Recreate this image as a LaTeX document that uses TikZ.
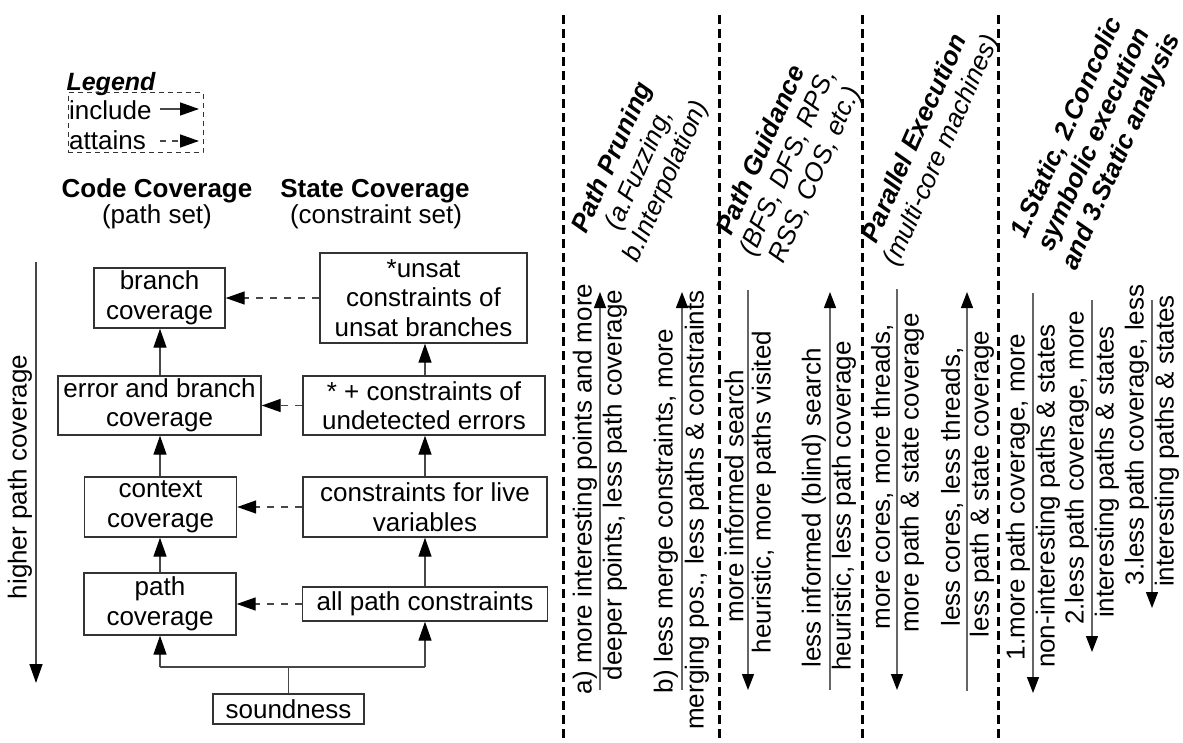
\documentclass[tikz,border=0pt]{standalone}
\usepackage{fontspec}
\setmainfont{Liberation Sans}
\usetikzlibrary{arrows.meta}
\begin{document}
\begin{tikzpicture}[x=1pt,y=-1pt,
  every node/.style={font=\fontsize{26}{29.5}\selectfont, text=black},
  box/.style={draw=black!80, line width=1.4pt, align=center, inner sep=0pt},
  conn/.style={draw=black!72, line width=1.4pt},
  arr/.style={conn, -{Triangle[length=19pt,width=13pt,color=black]}},
  darr/.style={arr, dash pattern=on 7pt off 7pt},
  sep/.style={line width=3pt, dash pattern=on 9pt off 5pt},
  vlbl/.style={inner sep=0pt, rotate=90},
  trend/.style={draw=black!60, line width=1.2pt, -{Triangle[length=16pt,width=12pt,color=black]}},
  head/.style={inner sep=0pt, rotate=66, align=center},
  legendbox/.style={draw=black!80, line width=1pt, dash pattern=on 5pt off 4pt, inner sep=0pt}
]
\useasboundingbox (0,0) rectangle (1183,743);

% ---------- legend ----------
\node[inner sep=0pt, font=\fontsize{25}{28}\selectfont\bfseries\itshape] (lg) at (111,84) {Legend};
\node[legendbox, minimum width=135pt, minimum height=60pt] (lgb) at (135.5,123) {};
\node[anchor=west, inner sep=0pt] (inc) at (69,110) {include};
\node[anchor=west, inner sep=0pt] (att) at (69,140) {attains};
\coordinate (incA) at (160,109);
\coordinate (incB) at (199,109);
\coordinate (attA) at (160,141);
\coordinate (attB) at (199,141);
\draw[arr] (incA) -- (incB);
\draw[arr, dash pattern=on 6pt off 6pt] (attA) -- (attB);

% ---------- column headings ----------
\node[inner sep=0pt, font=\fontsize{26}{29.5}\selectfont\bfseries] (cch) at (157,191) {Code Coverage};
\node[inner sep=0pt] (ccs) at (157,217) {(path set)};
\node[inner sep=0pt, font=\fontsize{26}{29.5}\selectfont\bfseries] (sch) at (375,191) {State Coverage};
\node[inner sep=0pt] (scs) at (376,217) {(constraint set)};

% ---------- coverage hierarchy ----------
\node[box, minimum width=131pt, minimum height=60pt] (br) at (159.5,298) {branch\\coverage};
\node[box, minimum width=203pt, minimum height=59pt] (eb) at (159.5,405.5) {error and branch\\coverage};
\node[box, minimum width=152pt, minimum height=60pt] (cx) at (160.5,507) {context\\coverage};
\node[box, minimum width=152pt, minimum height=62pt] (pc) at (160,604) {path\\coverage};

\node[box, minimum width=207pt, minimum height=90pt] (us) at (423.5,298) {*unsat\\constraints of\\unsat branches};
\node[box, minimum width=242pt, minimum height=59pt] (ue) at (424,405.5) {* + constraints of\\undetected errors};
\node[box, minimum width=244pt, minimum height=60pt] (lv) at (425,507) {constraints for live\\variables};
\node[box, minimum width=245pt, minimum height=34pt] (ap) at (425,604) {all path constraints};

\node[box, minimum width=151pt, minimum height=30pt] (sd) at (288.5,709) {soundness};

% include edges
\coordinate (jn) at (288.5,667);
\draw[conn] (sd.north) -- (jn);
\draw[conn] (pc.south |- jn) -- (ap.south |- jn);
\draw[arr] (pc.south |- jn) -- (pc.south);
\draw[arr] (ap.south |- jn) -- (ap.south);
\draw[arr] (pc.north) -- (pc.north |- cx.south);
\draw[arr] (pc.north |- cx.north) -- (pc.north |- eb.south);
\draw[arr] (pc.north |- eb.north) -- (pc.north |- br.south);
\draw[arr] (ap.north) -- (ap.north |- lv.south);
\draw[arr] (ap.north |- lv.north) -- (ap.north |- ue.south);
\draw[arr] (ap.north |- ue.north) -- (ap.north |- us.south);

% attains edges
\draw[darr] (us.west) -- (us.west -| br.east);
\draw[darr] (ue.west) -- (ue.west -| eb.east);
\draw[darr] (lv.west) -- (lv.west -| cx.east);
\draw[darr] (ap.west) -- (ap.west -| pc.east);

% vertical scale
\coordinate (hpA) at (36,262);
\coordinate (hpB) at (36,683);
\draw[arr] (hpA) -- (hpB);
\node[vlbl] (hp) at (20,477) {higher path coverage};

% ---------- separators ----------
\foreach \sx in {563,719,862,998}
  \draw[sep] (\sx,15) -- (\sx,743);

% ---------- technique headings ----------
\node[head] (h1) at (640,170) {\textbf{\textit{Path Pruning}}\\\textit{(a.Fuzzing,}\\\textit{b.Interpolation)}};
\node[head] (h2) at (789,163) {\textbf{\textit{Path Guidance}}\\\textit{(BFS, DFS, RPS,}\\\textit{RSS, COS, etc.)}};
\node[head] (h3) at (929,145) {\textbf{\textit{Parallel Execution}}\\\textit{(multi-core machines)}};
\node[head, font=\fontsize{26}{29.5}\selectfont\bfseries\itshape] (h4) at (1095,140) {1.Static, 2.Concolic\\symbolic execution\\and 3.Static analysis};

% ---------- path pruning ----------
\node[vlbl] (pa1) at (585,489) {a) more interesting points and more};
\node[vlbl] (pa2) at (615,485) {deeper points, less path coverage};
\coordinate (ta1) at (600,690); \coordinate (ta2) at (600,292);
\draw[trend] (ta1) -- (ta2);
\node[vlbl] (pb1) at (666,511) {b) less merge constraints, more};
\node[vlbl] (pb2) at (697,510) {merging pos., less paths \& constraints};
\coordinate (tb1) at (682,690); \coordinate (tb2) at (682,292);
\draw[trend] (tb1) -- (tb2);

% ---------- path guidance ----------
\node[vlbl] (pc1) at (734,496) {more informed search};
\node[vlbl] (pc2) at (764,492) {heuristic, more paths visited};
\coordinate (tc1) at (748,290); \coordinate (tc2) at (748,690);
\draw[trend] (tc1) -- (tc2);
\node[vlbl] (pd1) at (814,508) {less informed (blind) search};
\node[vlbl] (pd2) at (844,506) {heuristic, less path coverage};
\coordinate (td1) at (830,690); \coordinate (td2) at (830,292);
\draw[trend] (td1) -- (td2);

% ---------- parallel execution ----------
\node[vlbl] (pe1) at (882,477) {more cores, more threads,};
\node[vlbl] (pe2) at (912,473) {more path \& state coverage};
\coordinate (te1) at (897,289); \coordinate (te2) at (897,690);
\draw[trend] (te1) -- (te2);
\node[vlbl] (pf1) at (952,487) {less cores, less threads,};
\node[vlbl] (pf2) at (982,484) {less path \& state coverage};
\coordinate (tf1) at (967,691); \coordinate (tf2) at (967,292);
\draw[trend] (tf1) -- (tf2);

% ---------- static / concolic ----------
\node[vlbl] (pg1) at (1018,497) {1.more path coverage, more};
\node[vlbl] (pg2) at (1048,496) {non-interesting paths \& states};
\coordinate (tg1) at (1033,293); \coordinate (tg2) at (1033,693);
\draw[trend] (tg1) -- (tg2);
\node[vlbl] (ph1) at (1077,468) {2.less path coverage, more};
\node[vlbl] (ph2) at (1107,472) {interesting paths \& states};
\coordinate (th1) at (1092,300); \coordinate (th2) at (1092,652);
\draw[trend] (th1) -- (th2);
\node[vlbl] (pi1) at (1137,435) {3.less path coverage, less};
\node[vlbl] (pi2) at (1167,441) {interesting paths \& states};
\coordinate (ti1) at (1152,300); \coordinate (ti2) at (1152,608);
\draw[trend] (ti1) -- (ti2);
\end{tikzpicture}
\end{document}
